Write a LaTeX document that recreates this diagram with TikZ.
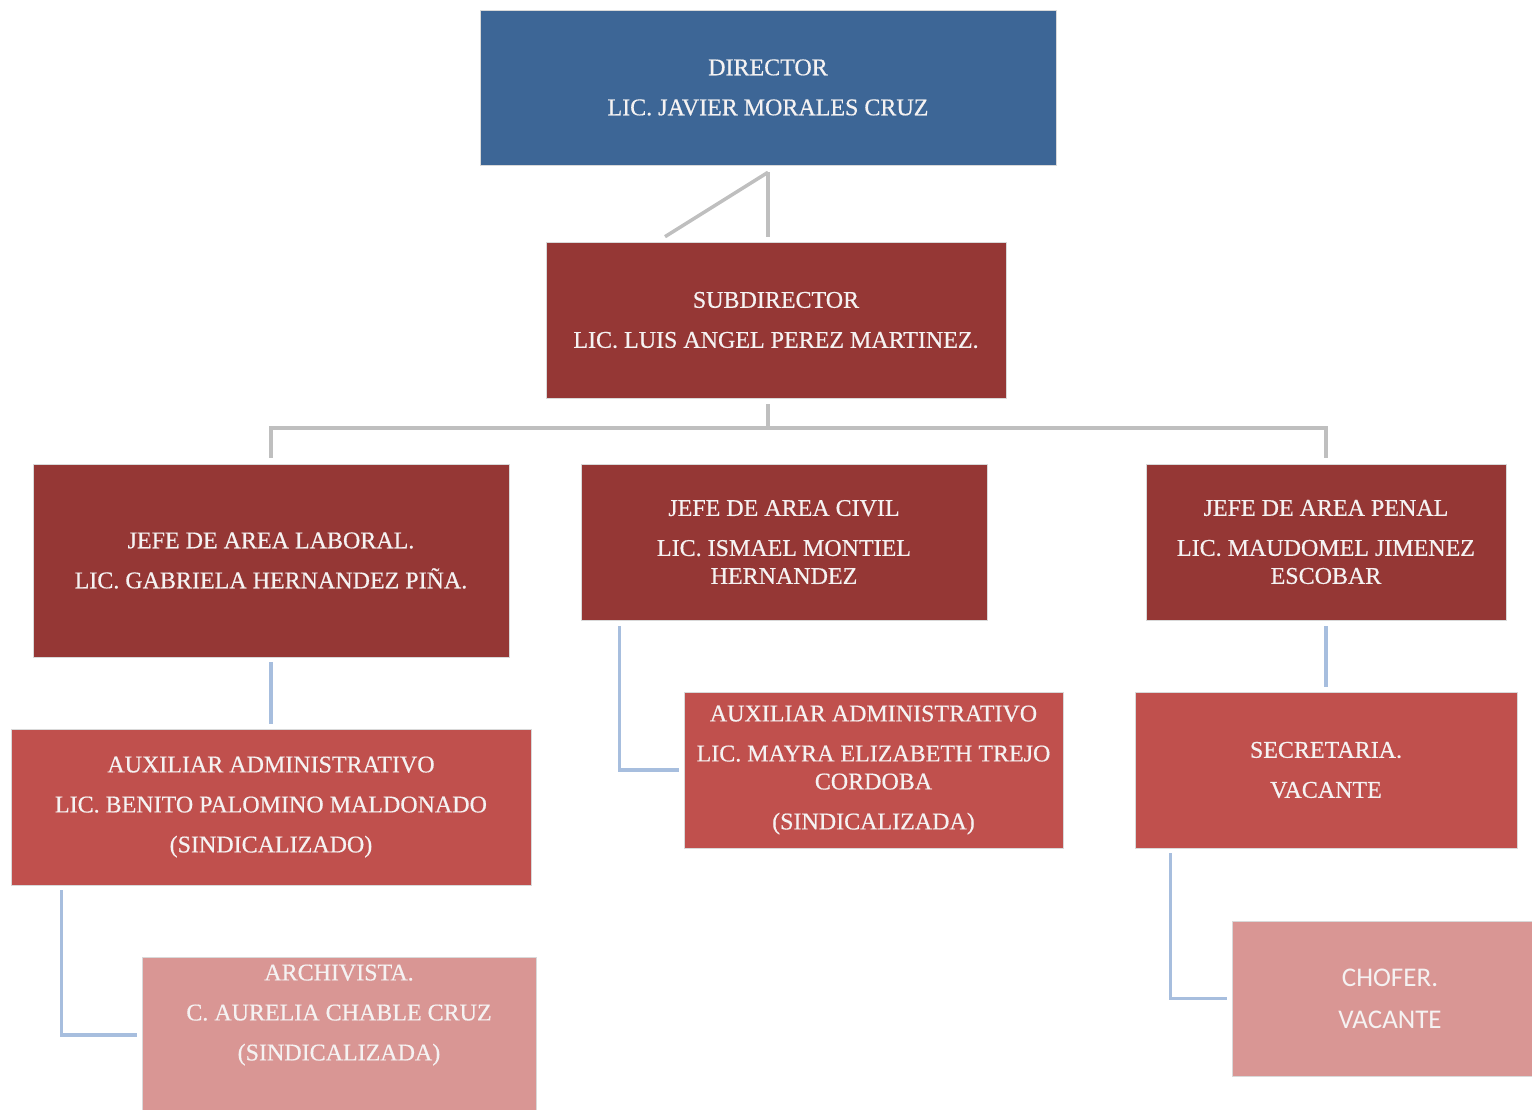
\documentclass[tikz,border=0pt]{standalone}
\usepackage{fontspec}
\setmainfont{Liberation Serif}[FakeBold=0.5]
\newfontfamily\chofont{Carlito}
\definecolor{dirblue}{RGB}{61,102,150}
\definecolor{darkred}{RGB}{149,55,53}
\definecolor{midred}{RGB}{192,80,77}
\definecolor{lightred}{RGB}{217,150,148}
\definecolor{graylink}{RGB}{191,191,191}
\definecolor{bluelink}{RGB}{167,190,222}
\definecolor{txt}{RGB}{245,242,242}
\begin{document}
\begin{tikzpicture}[x=1pt,y=-1pt,
  orgbox/.style={rectangle, inner sep=0pt, draw=white!85!black, line width=0.6pt, text=txt, align=center,
    font=\fontsize{24}{28}\selectfont},
  glink/.style={draw=graylink, line width=3.5pt},
  blink/.style={draw=bluelink, line width=3.5pt}]
\useasboundingbox (0,0) rectangle (1532,1109);
% boxes
\node[orgbox, fill=dirblue, minimum width=576pt, minimum height=155pt] (dir) at (768,87.5)
  {DIRECTOR\\[12pt]LIC. JAVIER MORALES CRUZ};
\node[orgbox, fill=darkred, minimum width=460pt, minimum height=156pt] (sub) at (776,320)
  {SUBDIRECTOR\\[12pt]LIC. LUIS ANGEL PEREZ MARTINEZ.};
\node[orgbox, fill=darkred, minimum width=476pt, minimum height=193pt] (lab) at (271,560.5)
  {JEFE DE AREA LABORAL.\\[12pt]LIC. GABRIELA HERNANDEZ PIÑA.};
\node[orgbox, fill=darkred, minimum width=406pt, minimum height=156pt] (civ) at (784,542)
  {JEFE DE AREA CIVIL\\[12pt]LIC. ISMAEL MONTIEL\\HERNANDEZ};
\node[orgbox, fill=darkred, minimum width=360pt, minimum height=156pt] (pen) at (1326,542)
  {JEFE DE AREA PENAL\\[12pt]LIC. MAUDOMEL JIMENEZ\\ESCOBAR};
\node[orgbox, fill=midred, minimum width=520pt, minimum height=156pt] (auxl) at (271,807)
  {AUXILIAR ADMINISTRATIVO\\[12pt]LIC. BENITO PALOMINO MALDONADO\\[12pt](SINDICALIZADO)};
\node[orgbox, fill=midred, minimum width=379pt, minimum height=156pt] (auxc) at (873.5,770)
  {AUXILIAR ADMINISTRATIVO\\[12pt]LIC. MAYRA ELIZABETH TREJO\\CORDOBA\\[12pt](SINDICALIZADA)};
\node[orgbox, fill=midred, minimum width=382pt, minimum height=156pt] (sec) at (1326,770)
  {SECRETARIA.\\[12pt]VACANTE};
\node[orgbox, fill=lightred, minimum width=394pt, minimum height=160pt] (arch) at (339,1037) {};
\node[text=txt, align=center, font=\fontsize{24}{28}\selectfont, inner sep=0pt] (archt) at (339,1015)
  {ARCHIVISTA.\\[12pt]C. AURELIA CHABLE CRUZ\\[12pt](SINDICALIZADA)};
\node[orgbox, fill=lightred, minimum width=316pt, minimum height=155pt, font=\chofont\fontsize{27}{30}\selectfont] (cho) at (1390,998.5)
  {CHOFER.\\[12pt]VACANTE};
% gray connectors
\coordinate (dtop) at ([yshift=-7pt]dir.south);
\draw[glink] (dtop) -- ([yshift=5pt]sub.north -| dtop);
\draw[glink] (dtop) -- ([xshift=-111pt,yshift=5pt]sub.north);
\coordinate (bus) at (768,428);
\draw[glink] ([yshift=-6pt]sub.south -| bus) -- (bus);
\draw[glink] ([yshift=6pt]lab.north) |- (bus) -| ([yshift=6pt]pen.north);
% blue connectors
\draw[blink] ([yshift=-5pt]lab.south) -- ([yshift=5pt]auxl.north);
\draw[blink] ([xshift=39pt,yshift=-6pt]civ.south west) |- ([xshift=-5pt]auxc.west);
\draw[blink] ([yshift=-6pt]pen.south) -- ([yshift=5pt]sec.north);
\draw[blink] ([xshift=36pt,yshift=-5pt]sec.south west) |- ([xshift=-5pt]cho.west);
\draw[blink] ([xshift=51pt,yshift=-5pt]auxl.south west) |- ([xshift=-5pt]arch.west |- 0,1035);
\end{tikzpicture}
\end{document}
